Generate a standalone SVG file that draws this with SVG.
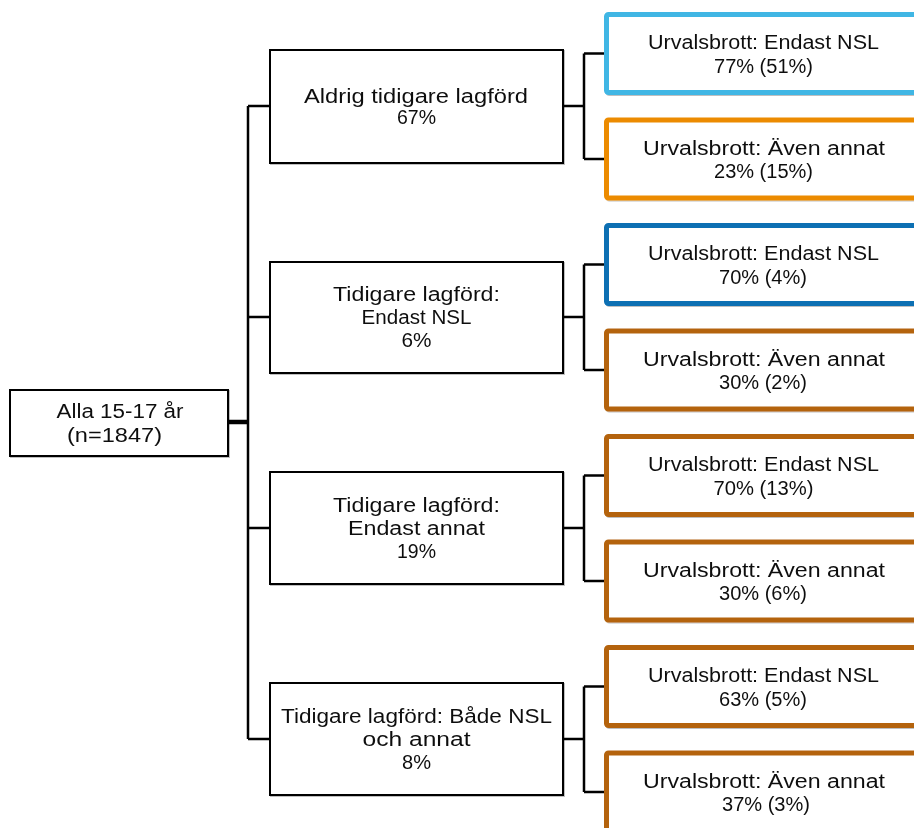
<svg xmlns="http://www.w3.org/2000/svg" width="914" height="828" viewBox="0 0 914 828">
<defs>
<style>
text{font-family:"Liberation Sans",Arial,sans-serif;font-size:20px;fill:#111;text-anchor:middle}
.n rect{fill:#fff;stroke:#000;stroke-width:2}
.r rect{fill:#fff;stroke-width:5}
.lb rect{stroke:#41b6e4}
.or rect{stroke:#ec8b00}
.bl rect{stroke:#0b6fb3}
.br rect{stroke:#b4640f}
.c{fill:none;stroke:#000;stroke-width:2.5}
</style>
<filter id="sh" x="-10%" y="-20%" width="120%" height="140%">
<feDropShadow dx="1" dy="1" stdDeviation="0.6" flood-color="#000" flood-opacity="0.25"/>
</filter>
</defs>
<rect width="914" height="828" fill="#fff"/>
<g id="connectors">
<path class="c" d="M228 422H248" style="stroke-width:4.5"/>
<path class="c" d="M248 106V739M248 106H270M248 317H270M248 528H270M248 739H270"/>
<path class="c" d="M563 106H584M584 53.5V159M584 53.5H606M584 159H606"/>
<path class="c" d="M563 317H584M584 264.5V370M584 264.5H606M584 370H606"/>
<path class="c" d="M563 528H584M584 475.5V581M584 475.5H606M584 581H606"/>
<path class="c" d="M563 739H584M584 686.5V792M584 686.5H606M584 792H606"/>
</g>
<g id="root" class="n" filter="url(#sh)">
<rect x="10" y="390" width="218" height="66"/>
<text x="120" y="418" textLength="127" lengthAdjust="spacingAndGlyphs">Alla 15-17 år</text>
<text x="114.5" y="442" textLength="95" lengthAdjust="spacingAndGlyphs">(n=1847)</text>
</g>
<g id="m1" class="n" filter="url(#sh)">
<rect x="270" y="50" width="293" height="113"/>
<text x="416" y="103" textLength="224" lengthAdjust="spacingAndGlyphs">Aldrig tidigare lagförd</text>
<text x="416.5" y="124" textLength="39" lengthAdjust="spacingAndGlyphs">67%</text>
</g>
<g id="m2" class="n" filter="url(#sh)">
<rect x="270" y="262" width="293" height="111"/>
<text x="416.5" y="301" textLength="167" lengthAdjust="spacingAndGlyphs">Tidigare lagförd:</text>
<text x="416.5" y="324" textLength="110" lengthAdjust="spacingAndGlyphs">Endast NSL</text>
<text x="416.5" y="347" textLength="30" lengthAdjust="spacingAndGlyphs">6%</text>
</g>
<g id="m3" class="n" filter="url(#sh)">
<rect x="270" y="472" width="293" height="112"/>
<text x="416.5" y="512" textLength="167" lengthAdjust="spacingAndGlyphs">Tidigare lagförd:</text>
<text x="416.5" y="535" textLength="137" lengthAdjust="spacingAndGlyphs">Endast annat</text>
<text x="416.5" y="558" textLength="39" lengthAdjust="spacingAndGlyphs">19%</text>
</g>
<g id="m4" class="n" filter="url(#sh)">
<rect x="270" y="683" width="293" height="112"/>
<text x="416.5" y="723" textLength="271" lengthAdjust="spacingAndGlyphs">Tidigare lagförd: Både NSL</text>
<text x="416.5" y="746" textLength="108" lengthAdjust="spacingAndGlyphs">och annat</text>
<text x="416.5" y="769" textLength="29" lengthAdjust="spacingAndGlyphs">8%</text>
</g>
<g id="r1" class="r lb" filter="url(#sh)">
<rect x="606.5" y="14.5" width="315" height="78" rx="2"/>
<text x="763.5" y="49" textLength="231" lengthAdjust="spacingAndGlyphs">Urvalsbrott: Endast NSL</text>
<text x="763.5" y="73" textLength="99" lengthAdjust="spacingAndGlyphs">77% (51%)</text>
</g>
<g id="r2" class="r or" filter="url(#sh)">
<rect x="606.5" y="120" width="315" height="78" rx="2"/>
<text x="764" y="154.5" textLength="242" lengthAdjust="spacingAndGlyphs">Urvalsbrott: Även annat</text>
<text x="763.5" y="178" textLength="99" lengthAdjust="spacingAndGlyphs">23% (15%)</text>
</g>
<g id="r3" class="r bl" filter="url(#sh)">
<rect x="606.5" y="225.5" width="315" height="78" rx="2"/>
<text x="763.5" y="260" textLength="231" lengthAdjust="spacingAndGlyphs">Urvalsbrott: Endast NSL</text>
<text x="763" y="283.5" textLength="88" lengthAdjust="spacingAndGlyphs">70% (4%)</text>
</g>
<g id="r4" class="r br" filter="url(#sh)">
<rect x="606.5" y="331" width="315" height="78" rx="2"/>
<text x="764" y="365.5" textLength="242" lengthAdjust="spacingAndGlyphs">Urvalsbrott: Även annat</text>
<text x="763" y="389" textLength="88" lengthAdjust="spacingAndGlyphs">30% (2%)</text>
</g>
<g id="r5" class="r br" filter="url(#sh)">
<rect x="606.5" y="436.5" width="315" height="78" rx="2"/>
<text x="763.5" y="471" textLength="231" lengthAdjust="spacingAndGlyphs">Urvalsbrott: Endast NSL</text>
<text x="763.5" y="494.5" textLength="100" lengthAdjust="spacingAndGlyphs">70% (13%)</text>
</g>
<g id="r6" class="r br" filter="url(#sh)">
<rect x="606.5" y="542" width="315" height="78" rx="2"/>
<text x="764" y="576.5" textLength="242" lengthAdjust="spacingAndGlyphs">Urvalsbrott: Även annat</text>
<text x="763" y="600" textLength="88" lengthAdjust="spacingAndGlyphs">30% (6%)</text>
</g>
<g id="r7" class="r br" filter="url(#sh)">
<rect x="606.5" y="647.5" width="315" height="78" rx="2"/>
<text x="763.5" y="682" textLength="231" lengthAdjust="spacingAndGlyphs">Urvalsbrott: Endast NSL</text>
<text x="763" y="705.5" textLength="88" lengthAdjust="spacingAndGlyphs">63% (5%)</text>
</g>
<g id="r8" class="r br" filter="url(#sh)">
<rect x="606.5" y="753" width="315" height="78" rx="2"/>
<text x="764" y="787.5" textLength="242" lengthAdjust="spacingAndGlyphs">Urvalsbrott: Även annat</text>
<text x="766" y="811" textLength="88" lengthAdjust="spacingAndGlyphs">37% (3%)</text>
</g>
</svg>
